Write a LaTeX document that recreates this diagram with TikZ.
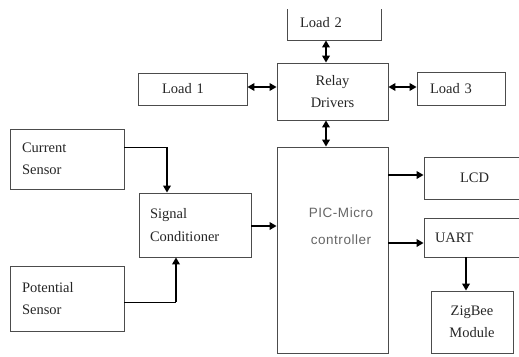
\documentclass[tikz,border=0pt]{standalone}
\usepackage{fontspec}
\setmainfont{Liberation Serif}
\newfontfamily\picfont[LetterSpace=4]{Liberation Sans}
\usetikzlibrary{arrows.meta,calc}

\tikzset{
  box/.style={draw=black!70, line width=0.8pt, rectangle, inner sep=0pt,
              font=\fontsize{14.5}{22.5}\selectfont, text=black!85},
  lbox/.style={box, align=left},
  cbox/.style={box, align=center},
  flow/.style={line width=1.8pt, -{Triangle[length=7pt,width=7.5pt]}},
  both/.style={line width=1.8pt, {Triangle[length=7pt,width=7.5pt]}-{Triangle[length=7pt,width=7.5pt]}},
  feed/.style={line width=0.9pt},
  mcu/.style={font=\picfont\fontsize{13.5}{27}\selectfont, text=black!60, align=center, inner sep=0pt}
}

\begin{document}
\begin{tikzpicture}[x=1pt, y=-1pt]
\useasboundingbox (0,0) rectangle (519,356);
\fill[white] (0,0) rectangle (519,356);
\clip (0,9) rectangle (519,356);

% sensor and conditioning blocks
\node[lbox, minimum width=114pt, minimum height=60pt, text width=90pt] (cur) at (67,159) {Current\\Sensor};
\node[lbox, minimum width=114pt, minimum height=65pt, text width=90pt] (pot) at (67,298.5) {Potential\\Sensor};
\node[lbox, minimum width=112pt, minimum height=64pt, text width=90pt] (sig) at (195,225) {Signal\\Conditioner};

% loads and relay stage
\node[lbox, minimum width=109pt, minimum height=32pt, text width=61pt] (l1) at (192.5,89) {Load 1};
\node[lbox, minimum width=94pt, minimum height=34pt, text width=68pt] (l2) at (334,23) {Load 2};
\node[lbox, minimum width=88pt, minimum height=33pt, text width=62pt] (l3) at (461,88.5) {Load 3};
\node[cbox, minimum width=111pt, minimum height=57pt] (relay) at (332.5,91.5) {Relay\\Drivers};

% controller
\node[box, minimum width=111pt, minimum height=206pt] (pic) at (332.5,250) {};
\node[mcu] (pictxt) at (341,226) {PIC-Micro\\controller};

% outputs
\node[cbox, minimum width=101pt, minimum height=42pt] (lcd) at (474.5,178) {LCD};
\node[lbox, minimum width=101pt, minimum height=39pt, text width=79pt] (uart) at (474.5,237.5) {UART};
\node[cbox, minimum width=82pt, minimum height=62pt] (zig) at (472,322) {ZigBee\\Module};

% relay links
\draw[both] (l1.east |- 0,87) -- (relay.west |- 0,87);
\draw[both] (relay.east |- 0,87) -- (l3.west |- 0,87);
\draw[both] (l2.south -| 326,0) -- (relay.north -| 326,0);
\draw[both] (relay.south -| 326,0) -- (pic.north -| 326,0);

% sensor feeds
\coordinate (cc) at (167,147);
\coordinate (pc) at (176,302);
\draw[feed] (cur.east |- cc) -- (cc);
\draw[flow] (cc) -- (sig.north -| cc);
\draw[feed] (pot.east |- pc) -- (pc);
\draw[flow] (pc) -- (sig.south -| pc);

% data path
\draw[flow] (sig.east |- 0,226) -- (pic.west |- 0,226);
\draw[flow] (pic.east |- 0,175) -- (lcd.west |- 0,175);
\draw[flow] (pic.east |- 0,243) -- (uart.west |- 0,243);
\draw[flow] (uart.south -| 466,0) -- (zig.north -| 466,0);
\end{tikzpicture}
\end{document}
